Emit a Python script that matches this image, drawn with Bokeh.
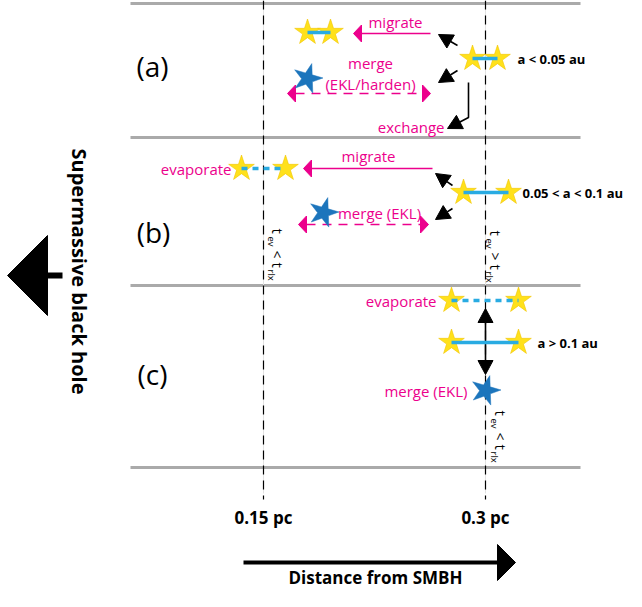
import math
from bokeh.plotting import figure
from bokeh.models import Range1d
from bokeh.core.properties import value
from bokeh.embed import file_html
from bokeh.resources import INLINE

# ---------------- data (schematic, reference pixel frame) ----------------
FONT = "Open Sans"
MAGENTA = "#EC008C"
CYAN = "#29ABE2"
BLUE = "#1C75BC"
YELLOW = "#FFE11B"

panel_labels = ["(a)", "(b)", "(c)"]
panel_label_x = [152, 153, 152]
panel_label_y = [65, 231, 373]

sep_y = [3, 137, 285, 467]
sep_x0, sep_x1 = 130, 580

dist_ticks = ["0.15 pc", "0.3 pc"]
dist_x = [263, 485]
dist_y_top, dist_y_bot = 0, 499
tick_label_y = 517

# binaries: (x_left, x_right, y, dashed?)
bin_xl = [307, 472, 241, 463, 451, 451]
bin_xr = [330, 497, 285, 508, 518, 518]
bin_y = [32, 58, 168, 192, 300, 342]
bin_dashed = [False, False, True, False, True, False]

merged_x = [307, 323, 485]
merged_y = [78, 212, 390]

# magenta single arrows (from -> to)
mig_x0 = [430, 432]; mig_y0 = [33, 168]
mig_x1 = [353, 303]; mig_y1 = [33, 168]
# magenta dashed double arrows
dbl_x0 = [287, 298]; dbl_x1 = [430, 428]; dbl_y = [93, 224]
# black arrows (from -> tip)
blk_x0 = [457, 457, 452, 452, 485, 485]
blk_y0 = [45, 70, 185, 208, 342, 342]
blk_x1 = [438, 438, 435, 435, 485, 485]
blk_y1 = [34, 82, 173, 219, 308, 374]
# exchange elbow arrow
exch_x = [468, 468, 447]
exch_y = [82, 117, 128]

magenta_texts = ["migrate", "merge", "(EKL/harden)", "exchange",
                 "migrate", "merge (EKL)", "evaporate",
                 "evaporate", "merge (EKL)"]
magenta_tx = [395, 370, 370, 444, 368, 379, 231, 436, 467]
magenta_ty = [21, 62, 83, 126, 155, 212, 168, 300, 390]
magenta_align = ["center", "center", "center", "right", "center", "center",
                 "right", "right", "right"]

sep_labels = ["a < 0.05 au", "0.05 < a < 0.1 au", "a > 0.1 au"]
sep_lx = [517, 522, 537]
sep_ly = [58, 192, 342]

# timescale labels: (x of t, y start, relation)
tl_x = [277, 495, 500]
tl_y = [228, 230, 410]
tl_rel = ["<", ">", "<"]

# ---------------- figure ----------------
p = figure(width=626, height=591, x_range=Range1d(0, 626), y_range=Range1d(591, 0),
           output_backend="svg", toolbar_location=None, min_border=0,
           x_axis_type=None, y_axis_type=None)
p.grid.visible = False
p.outline_line_color = None
p.background_fill_color = "white"


def head(tx, ty, fx, fy, L, W):
    dx, dy = tx - fx, ty - fy
    n = math.hypot(dx, dy)
    dx, dy = dx / n, dy / n
    bx, by = tx - L * dx, ty - L * dy
    px, py = -dy, dx
    return [tx, bx + W * px, bx - W * px], [ty, by + W * py, by - W * py], (bx, by)


# separators
for y in sep_y:
    p.line([sep_x0, sep_x1], [y, y], line_color="#AAAAAA", line_width=3)

# distance markers
for x in dist_x:
    p.line([x, x], [dist_y_top, dist_y_bot - 6], line_color="#E2E2E2", line_width=1)
    p.line([x, x], [dist_y_top, dist_y_bot], line_color="black", line_width=1.2,
           line_dash="9 6")
p.text(dist_x, [tick_label_y] * 2, text=dist_ticks, text_align="center",
       text_baseline="middle", text_font=value(FONT), text_font_style="bold",
       text_font_size="17px", text_color="black")

# magenta solid arrows
for x0, y0, x1, y1 in zip(mig_x0, mig_y0, mig_x1, mig_y1):
    hx, hy, (bx, by) = head(x1, y1, x0, y0, 8, 8.5)
    p.line([x0, bx], [y0, by], line_color=MAGENTA, line_width=1.5)
    p.patch(hx, hy, fill_color=MAGENTA, line_color=MAGENTA)

# magenta dashed double arrows
for x0, x1, y in zip(dbl_x0, dbl_x1, dbl_y):
    p.line([x0 + 8, x1 - 8], [y, y], line_color=MAGENTA, line_width=1.5, line_dash="9 7")
    for tx, fx in ((x0, x1), (x1, x0)):
        hx, hy, _ = head(tx, y, fx, y, 8, 8.5)
        p.patch(hx, hy, fill_color=MAGENTA, line_color=MAGENTA)

# black arrows
for x0, y0, x1, y1 in zip(blk_x0, blk_y0, blk_x1, blk_y1):
    hx, hy, (bx, by) = head(x1, y1, x0, y0, 14, 7.5)
    p.line([x0, bx], [y0, by], line_color="black", line_width=1.6)
    p.patch(hx, hy, fill_color="black", line_color="black")

hx, hy, (bx, by) = head(exch_x[2], exch_y[2], exch_x[1], exch_y[1], 14, 7.5)
p.line(exch_x[:2] + [bx], exch_y[:2] + [by], line_color="black", line_width=1.6)
p.patch(hx, hy, fill_color="black", line_color="black")

# binaries
allx = bin_xl + bin_xr
ally = bin_y + bin_y
p.scatter(allx, ally, marker="star", size=27, fill_color=YELLOW,
          line_color="#F2C500", line_width=0.6)
for xl, xr, y, d in zip(bin_xl, bin_xr, bin_y, bin_dashed):
    p.line([xl, xr], [y, y], line_color=CYAN, line_width=3.5,
           line_dash="6 5" if d else "solid")

# merged stars
p.scatter(merged_x, merged_y, marker="star", size=31, angle=-0.28,
          fill_color=BLUE, line_color=BLUE, line_width=0.5)

# magenta texts
for t, x, y, a in zip(magenta_texts, magenta_tx, magenta_ty, magenta_align):
    p.text([x], [y], text=[t], text_align=a, text_baseline="middle",
           text_font=value(FONT), text_font_size="15px", text_color=MAGENTA)

# separation labels
p.text(sep_lx, sep_ly, text=sep_labels, text_align="left", text_baseline="middle",
       text_font=value(FONT), text_font_style="bold", text_font_size="13px",
       text_color="black")

# panel labels
p.text(panel_label_x, panel_label_y, text=panel_labels, text_align="center",
       text_baseline="middle", text_font=value(FONT), text_font_size="28px",
       text_color="black")

# rotated timescale labels t_ev </> t_rlx
for x, y0, rel in zip(tl_x, tl_y, tl_rel):
    pieces = [("t", x, y0, "15px"), ("ev", x - 6, y0 + 8, "9.5px"),
              (rel, x, y0 + 22, "14px"), ("t", x, y0 + 34, "15px"),
              ("rlx", x - 6, y0 + 41, "9.5px")]
    for s, px_, py_, fs in pieces:
        p.text([px_], [py_], text=[s], angle=-math.pi / 2, text_align="left",
               text_baseline="middle", text_font=value(FONT), text_font_size=fs,
               text_color="black")

# left arrow: Supermassive black hole
p.patch([7, 47, 47], [275, 235, 315], fill_color="black", line_color="black")
p.line([47, 62], [275, 275], line_color="black", line_width=6)
p.text([79], [271], text=["Supermassive black hole"], angle=-math.pi / 2,
       text_align="center", text_baseline="middle", text_font=value(FONT),
       text_font_style="bold", text_font_size="20px", text_color="black")

# bottom arrow: distance from SMBH
p.line([243, 498], [562, 562], line_color="black", line_width=4)
p.patch([515, 497, 497], [562, 544, 580], fill_color="black", line_color="black")
p.text([375], [577], text=["Distance from SMBH"], text_align="center",
       text_baseline="middle", text_font=value(FONT), text_font_style="bold",
       text_font_size="17px", text_color="black")

open("out.html", "w").write(file_html(p, INLINE))
